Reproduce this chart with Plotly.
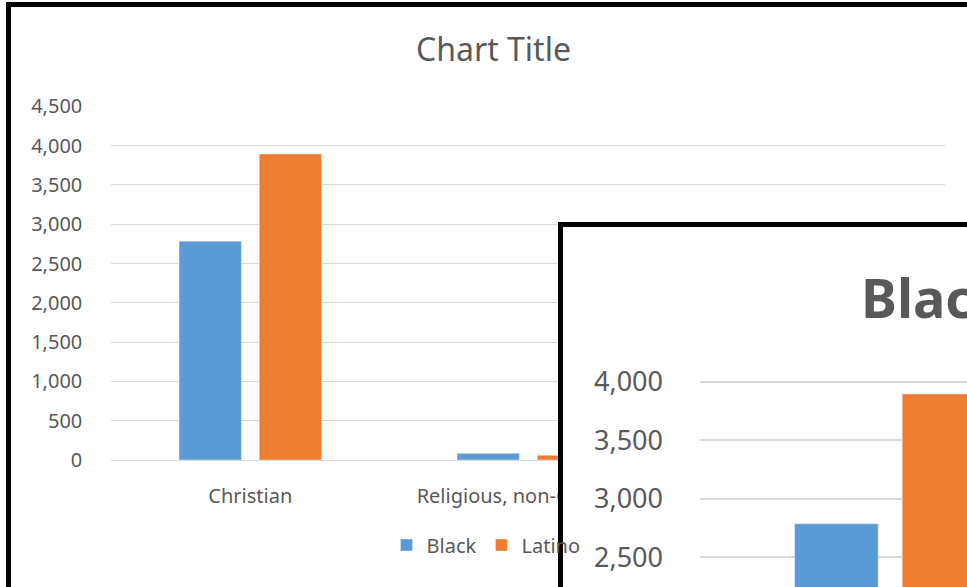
import plotly.graph_objects as go

# ---- data ----
categories = ["Christian", "Religious, non-Christian", "Unaffiliated"]
black_values = [2785, 85, 430]
latino_values = [3895, 60, 560]
series_names = ["Black", "Latino"]
main_title = "Chart Title"
inset_title = "Black and Latino"

BLUE = "#5b9bd5"
ORANGE = "#ed7d31"
GRID = "#d9d9d9"
TXT = "#595959"
FONT = "Noto Sans"

W, H = 967, 587
def px_x(p):
    return p / W
def px_y(p):
    return 1 - p / H

fig = go.Figure()

# main chart
fig.add_trace(go.Bar(x=categories, y=black_values, name=series_names[0],
                     marker_color=BLUE, xaxis="x", yaxis="y"))
fig.add_trace(go.Bar(x=categories, y=latino_values, name=series_names[1],
                     marker_color=ORANGE, xaxis="x", yaxis="y"))
# window (inset background) subplot - empty
fig.add_trace(go.Scatter(x=[], y=[], xaxis="x2", yaxis="y2", showlegend=False,
                         hoverinfo="skip"))
# inset chart
fig.add_trace(go.Bar(x=categories, y=black_values, name=series_names[0],
                     marker_color=BLUE, xaxis="x3", yaxis="y3", showlegend=False))
fig.add_trace(go.Bar(x=categories, y=latino_values, name=series_names[1],
                     marker_color=ORANGE, xaxis="x3", yaxis="y3", showlegend=False))

fig.update_layout(
    width=W, height=H,
    margin=dict(l=0, r=0, t=0, b=0, autoexpand=False),
    paper_bgcolor="white", plot_bgcolor="white",
    font=dict(family=FONT, color=TXT, size=20),
    barmode="group", bargap=0.423, bargroupgap=0.223,
    title=dict(text=main_title, x=px_x(493.5), xanchor="center",
               y=px_y(50), yanchor="middle", xref="paper", yref="container",
               font=dict(size=32, color=TXT, family=FONT)),
    xaxis=dict(domain=[px_x(111.3), px_x(945.3)], anchor="y",
               showgrid=False, zeroline=False, showline=True,
               linecolor=GRID, linewidth=1, ticks="",
               tickfont=dict(size=20, color=TXT), ticklabelstandoff=18),
    yaxis=dict(domain=[px_y(460), px_y(106.4)], anchor="x",
               range=[0, 4500], dtick=500, tick0=0, tickformat=",",
               showgrid=True, gridcolor=GRID, gridwidth=1,
               zeroline=False, showline=False, ticks="",
               tickfont=dict(size=20, color=TXT), ticklabelstandoff=28),
    xaxis2=dict(domain=[px_x(563), 1], anchor="y2", range=[0, 1],
                showgrid=False, zeroline=False, showticklabels=False, ticks="",
                showline=True, linecolor="black", linewidth=5, side="top",
                mirror=False),
    yaxis2=dict(domain=[0, px_y(227)], anchor="x2", range=[0, 1],
                showgrid=False, zeroline=False, showticklabels=False, ticks="",
                showline=True, linecolor="black", linewidth=5, side="left",
                mirror=False),
    xaxis3=dict(domain=[px_x(700), 1], anchor="y3", range=[-0.510, 0.206],
                showgrid=False, zeroline=False, showticklabels=False, ticks="",
                showline=False),
    yaxis3=dict(domain=[0, px_y(340)], anchor="x3", range=[2245, 4356],
                dtick=500, tick0=0, tickformat=",",
                showgrid=True, gridcolor=GRID, gridwidth=1.5,
                zeroline=False, showline=False, ticks="",
                tickfont=dict(size=27, color=TXT), ticklabelstandoff=36),
    legend=dict(orientation="h", x=px_x(486), xanchor="center",
                y=px_y(545), yanchor="middle", font=dict(size=20, color=TXT),
                bgcolor="rgba(0,0,0,0)"),
    showlegend=True,
)

fig.add_annotation(text="<b>" + inset_title + "</b>", xref="paper", yref="paper",
                   x=px_x(859), y=px_y(297), xanchor="left", yanchor="middle",
                   showarrow=False, font=dict(size=54, color=TXT, family=FONT))

# outer window frame (left and top edges visible)
fig.add_shape(type="rect", xref="paper", yref="paper",
              x0=px_x(8.5), x1=1.2, y0=-0.2, y1=px_y(4.5),
              line=dict(color="black", width=5), layer="below")

fig.write_html(
    "out.html",
    config={"displayModeBar": False},
    post_script="document.body.style.margin='0';document.body.style.overflow='hidden';",
)
